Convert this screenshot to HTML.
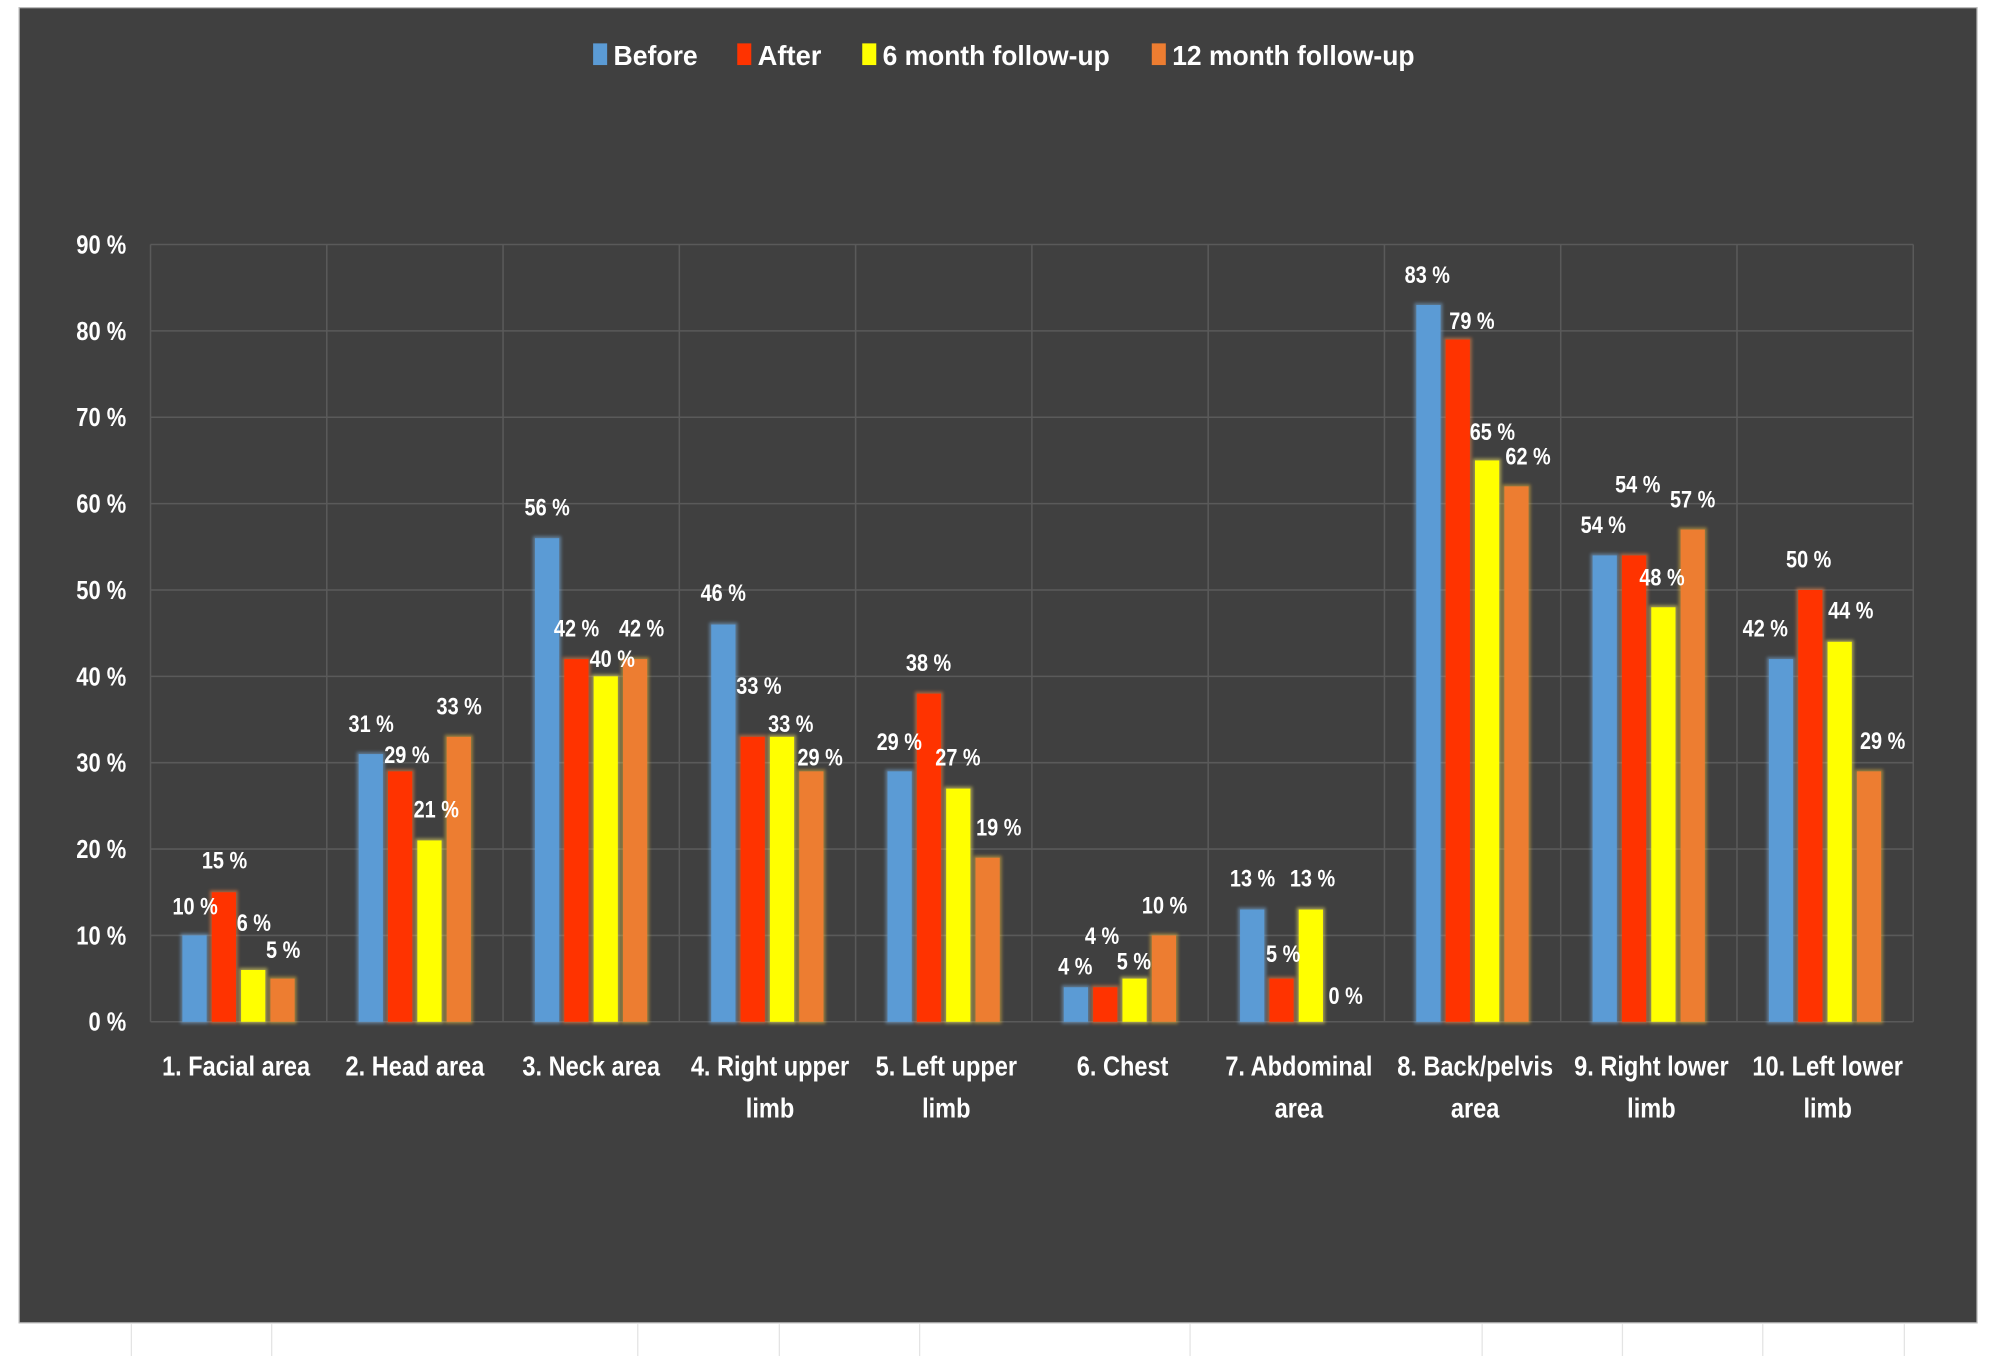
<!DOCTYPE html>
<html><head><meta charset="utf-8"><style>
html,body{margin:0;padding:0;background:#fff;}
svg{display:block;}
text{font-family:"Liberation Sans Narrow","Liberation Sans",sans-serif;font-weight:bold;fill:#fff;}
</style></head><body>
<svg width="2000" height="1356" viewBox="0 0 1568 1063" preserveAspectRatio="none" xmlns="http://www.w3.org/2000/svg">
<defs><filter id="g" x="-20%" y="-20%" width="140%" height="140%"><feGaussianBlur stdDeviation="1.2"/></filter></defs>
<rect x="0" y="0" width="1568" height="1063" fill="#fff"/>
<g stroke="#e4e4e4" stroke-width="1">
<line x1="103" y1="1038" x2="103" y2="1063"/><line x1="213" y1="1038" x2="213" y2="1063"/><line x1="500" y1="1038" x2="500" y2="1063"/><line x1="611" y1="1038" x2="611" y2="1063"/><line x1="721" y1="1038" x2="721" y2="1063"/><line x1="933" y1="1038" x2="933" y2="1063"/><line x1="1162" y1="1038" x2="1162" y2="1063"/><line x1="1272" y1="1038" x2="1272" y2="1063"/><line x1="1382" y1="1038" x2="1382" y2="1063"/><line x1="1493" y1="1038" x2="1493" y2="1063"/>
</g>
<rect x="15" y="6" width="1535" height="1031" fill="#404040" stroke="#bbb" stroke-width="1"/>
<g id="grid" stroke="#5a5a5a" stroke-width="1.2" fill="none"></g>
<g id="bars"></g>
<g id="labels" font-size="19"></g>
<g font-size="20" text-anchor="end" id="yax"></g>
<g font-size="22" text-anchor="middle" id="xax"></g>
<g font-size="22">
<rect x="465" y="34" width="11" height="17" fill="#5b9bd5"/><text x="481" y="51" textLength="66" lengthAdjust="spacingAndGlyphs">Before</text>
<rect x="578" y="34" width="11" height="17" fill="#ff3300"/><text x="594" y="51" textLength="50" lengthAdjust="spacingAndGlyphs">After</text>
<rect x="676" y="34" width="11" height="17" fill="#ffff00"/><text x="692" y="51" textLength="178" lengthAdjust="spacingAndGlyphs">6 month follow-up</text>
<rect x="903" y="34" width="11" height="17" fill="#ed7d31"/><text x="919" y="51" textLength="190" lengthAdjust="spacingAndGlyphs">12 month follow-up</text>
</g>
</svg>
<script>
const NS="http://www.w3.org/2000/svg";
function el(p,t,a,txt){const e=document.createElementNS(NS,t);for(const k in a)e.setAttribute(k,a[k]);if(txt!==undefined)e.textContent=txt;p.appendChild(e);return e;}
function tx(p,x,y,s,anchor,sx){return el(p,'text',{x:0,y:0,'text-anchor':anchor||'middle',transform:`translate(${x},${y}) scale(${sx||0.86},1)`},s);}
const L=118,R=1500,Y0=801,per=6.77,cw=(R-L)/10;
const grid=document.getElementById('grid');
for(let i=0;i<=9;i++){const y=Y0-i*10*per;el(grid,'line',{x1:L,x2:R,y1:y,y2:y});
tx(document.getElementById('yax'),99,y+7,i*10+' %','end');}
for(let i=0;i<=10;i++){const x=L+i*cw;el(grid,'line',{x1:x,x2:x,y1:Y0-90*per,y2:Y0});}
const data=[[10,31,56,46,29,4,13,83,54,42],[15,29,42,33,38,4,5,79,54,50],[6,21,40,33,27,5,13,65,48,44],[5,33,42,29,19,10,0,62,57,29]];
const col=['#5b9bd5','#ff3300','#ffff00','#ed7d31'];
const glow=['#7fb6e8','#ff8a4a','#fff36a','#f0c040'];
const bars=document.getElementById('bars');
for(let s=0;s<4;s++)for(let c=0;c<10;c++){const v=data[s][c];if(!v)continue;const x=L+c*cw+25+s*23;const h=v*per;
el(bars,'rect',{x:x-1.5,y:Y0-h-1.5,width:22,height:h+3,fill:glow[s],opacity:0.5,filter:'url(#g)'});
el(bars,'rect',{x:x,y:Y0-h,width:19,height:h,fill:col[s]});}
const lp=[[[153,710],[176,674],[199,723],[222,744]],[[291,567],[319,591],[342,634],[360,553]],[[429,397],[452,492],[480,516],[503,492]],[[567,464],[595,537],[620,567],[643,593]],[[705,581],[728,519],[751,593],[783,648]],[[843,757],[864,733],[889,753],[913,709]],[[982,688],[1006,747],[1029,688],[1055,780]],[[1119,215],[1154,251],[1170,338],[1198,357]],[[1257,411],[1284,379],[1303,452],[1327,391]],[[1384,492],[1418,438],[1451,478],[1476,580]]];
const lab=document.getElementById('labels');
for(let c=0;c<10;c++)for(let s=0;s<4;s++){const [x,y]=lp[c][s];tx(lab,x,y+7,data[s][c]+' %','middle',0.82);}
const cats=[["1. Facial area"],["2. Head area"],["3. Neck area"],["4. Right upper","limb"],["5. Left upper","limb"],["6. Chest"],["7. Abdominal","area"],["8. Back/pelvis","area"],["9. Right lower","limb"],["10. Left lower","limb"]];
const xa=document.getElementById('xax');
cats.forEach((c,i)=>{const x=L+i*cw+cw/2+(i==0?-2:(i>=3?2:0));c.forEach((t,j)=>tx(xa,x,843+j*33,t,'middle',0.84));});
</script>
</body></html>
